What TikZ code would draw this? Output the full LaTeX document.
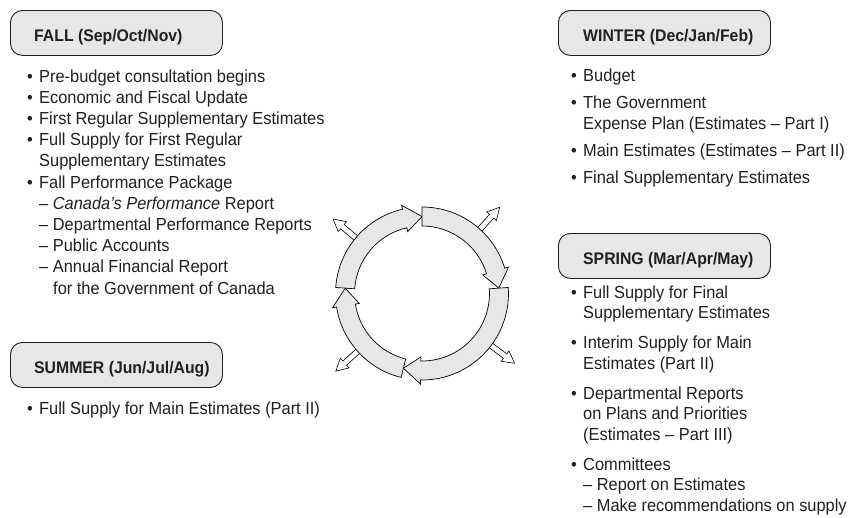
\documentclass[tikz,border=0pt]{standalone}
\usepackage{fontspec}
\setmainfont[FakeStretch=0.94]{Liberation Sans}
\usetikzlibrary{calc}
\definecolor{txt}{HTML}{231F20}
\definecolor{boxfill}{HTML}{E6E7E8}
\newcommand\ringseg[2]{%
  \pgfmathsetmacro\hb{#2+13}%
  \draw[seg] (#1:86.5) arc[start angle=#1, end angle=\hb, radius=86.5] -- (\hb:90.5) -- (#2:77) -- (\hb:63.5) -- (\hb:67.5) arc[start angle=\hb, end angle=#1, radius=67.5] -- cycle;}
\begin{document}
\begin{tikzpicture}[x=1pt,y=1pt,
  hbox/.style={draw=txt, line width=0.9pt, fill=boxfill, rounded corners=12pt, minimum width=212pt, minimum height=45pt, anchor=north west, inner sep=0pt},
  htext/.style={anchor=base west, inner sep=0pt, font=\fontsize{16.8}{20}\selectfont\bfseries, text=txt},
  ltext/.style={anchor=base west, inner sep=0pt, font=\fontsize{17.45}{21}\selectfont, text=txt},
  seg/.style={draw=black, line width=0.7pt, fill=boxfill, line join=miter},
  small/.style={draw=black, line width=0.6pt, fill=white, line join=miter},
  smallarr/.pic={\draw[small] (0,-2.8) -- (24,-2.8) -- (24,-6.5) -- (36,0) -- (24,6.5) -- (24,2.8) -- (0,2.8);}]
\useasboundingbox (0,0) rectangle (850,-517);

% ---------- FALL ----------
\node[hbox] (fallbox) at (10,-10) {};
\node[htext] (falltitle) at (34,-41) {FALL (Sep/Oct/Nov)};
\node[ltext] (fb1) at (27,-82) {•};
\node[ltext] (f1) at (39,-82) {Pre-budget consultation begins};
\node[ltext] (fb2) at (27,-103.2) {•};
\node[ltext] (f2) at (39,-103.2) {Economic and Fiscal Update};
\node[ltext] (fb3) at (27,-124.4) {•};
\node[ltext] (f3) at (39,-124.4) {First Regular Supplementary Estimates};
\node[ltext] (fb4) at (27,-145.6) {•};
\node[ltext] (f4) at (39,-145.6) {Full Supply for First Regular};
\node[ltext] (f5) at (39,-166.8) {Supplementary Estimates};
\node[ltext] (fb6) at (27,-188) {•};
\node[ltext] (f6) at (39,-188) {Fall Performance Package};
\node[ltext] (f7) at (39,-209.2) {– \textit{Canada’s Performance} Report};
\node[ltext] (f8) at (39,-230.4) {– Departmental Performance Reports};
\node[ltext] (f9) at (39,-251.6) {– Public Accounts};
\node[ltext] (f10) at (39,-272.8) {– Annual Financial Report};
\node[ltext] (f11) at (53,-294) {for the Government of Canada};

% ---------- SUMMER ----------
\node[hbox] (sumbox) at (10,-342) {};
\node[htext] (sumtitle) at (34,-373) {SUMMER (Jun/Jul/Aug)};
\node[ltext] (sb1) at (27,-414) {•};
\node[ltext] (s1) at (39,-414) {Full Supply for Main Estimates (Part II)};

% ---------- WINTER ----------
\node[hbox] (winbox) at (558,-10) {};
\node[htext] (wintitle) at (583,-41) {WINTER (Dec/Jan/Feb)};
\node[ltext] (wb1) at (571,-81) {•};
\node[ltext] (w1) at (583,-81) {Budget};
\node[ltext] (wb2) at (571,-108) {•};
\node[ltext] (w2) at (583,-108) {The Government};
\node[ltext] (w3) at (583,-129.2) {Expense Plan (Estimates – Part I)};
\node[ltext] (wb4) at (571,-156.2) {•};
\node[ltext] (w4) at (583,-156.2) {Main Estimates (Estimates – Part II)};
\node[ltext] (wb5) at (571,-183.2) {•};
\node[ltext] (w5) at (583,-183.2) {Final Supplementary Estimates};

% ---------- SPRING ----------
\node[hbox] (sprbox) at (558,-233) {};
\node[htext] (sprtitle) at (583,-264) {SPRING (Mar/Apr/May)};
\node[ltext] (pb1) at (571,-298) {•};
\node[ltext] (p1) at (583,-298) {Full Supply for Final};
\node[ltext] (p2) at (583,-318.5) {Supplementary Estimates};
\node[ltext] (pb3) at (571,-348.5) {•};
\node[ltext] (p3) at (583,-348.5) {Interim Supply for Main};
\node[ltext] (p4) at (583,-369) {Estimates (Part II)};
\node[ltext] (pb5) at (571,-399) {•};
\node[ltext] (p5) at (583,-399) {Departmental Reports};
\node[ltext] (p6) at (583,-419.5) {on Plans and Priorities};
\node[ltext] (p7) at (583,-440) {(Estimates – Part III)};
\node[ltext] (pb8) at (571,-470) {•};
\node[ltext] (p8) at (583,-470) {Committees};
\node[ltext] (p9) at (583,-490.5) {– Report on Estimates};
\node[ltext] (p10) at (583,-511) {– Make recommendations on supply};

% ---------- CYCLE ----------
\begin{scope}[shift={(422,-293.5)}]
  \pic[rotate=140] at (140:80) {smallarr};
  \pic[rotate=48] at (48:80) {smallarr};
  \pic[rotate=222] at (222:80) {smallarr};
  \pic[rotate=323] at (323:80) {smallarr};
  \ringseg{176}{90}
  \ringseg{90}{4}
  \ringseg{4}{-104}
  \ringseg{256}{176}
\end{scope}
\end{tikzpicture}
\end{document}
